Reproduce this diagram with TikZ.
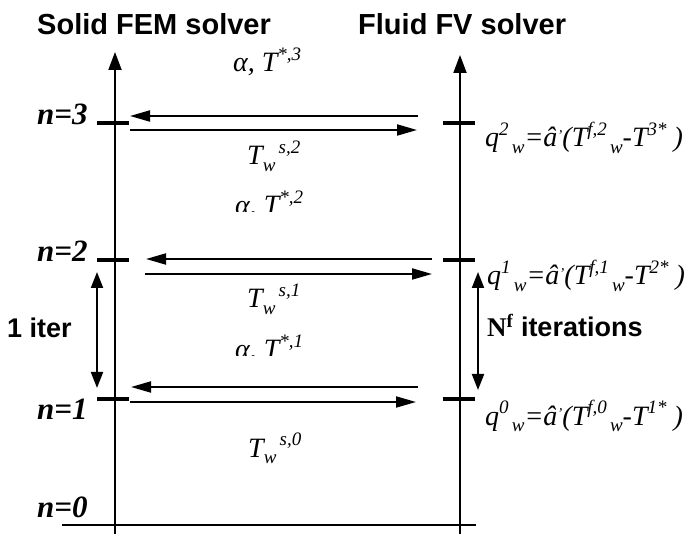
\documentclass[tikz,border=0pt]{standalone}
\usepackage{fontspec}
\setmainfont{Liberation Serif}
\setsansfont{Liberation Sans}
\usepackage{tikz}
\usetikzlibrary{arrows.meta,positioning}

\tikzset{
  ttl/.style={font=\sffamily\bfseries\fontsize{29}{30}\selectfont, inner sep=0pt, anchor=base west},
  lvl/.style={font=\bfseries\itshape\fontsize{31}{32}\selectfont, inner sep=0pt, anchor=base west},
  lbl/.style={font=\itshape\fontsize{28}{30}\selectfont, inner sep=0pt, anchor=base west},
  axis/.style={line width=2pt, -{Triangle[length=18pt,width=13pt]}},
  msg/.style={line width=2pt, -{Triangle[length=20pt,width=11pt]}},
  span/.style={line width=2pt, {Triangle[length=16pt,width=12pt]}-{Triangle[length=16pt,width=12pt]}},
  tick/.style={line width=4pt}
}
\newcommand{\up}[1]{\raisebox{0.42em}{\fontsize{19}{19}\selectfont #1}}
\newcommand{\dn}[1]{\raisebox{-0.22em}{\fontsize{19}{19}\selectfont #1}}
\newcommand{\hatA}{â\raisebox{0.5ex}{\fontsize{15}{15}\selectfont ’}}

\begin{document}
\begin{tikzpicture}[x=1pt, y=-1pt]
  \useasboundingbox (0,0) rectangle (696,534);

  % solvers
  \node[ttl] (solid) at (37,35) {Solid FEM solver};
  \node[ttl] (fluid) at (358,35) {Fluid FV solver};

  % time axes
  \coordinate (sbot) at (115,534);
  \coordinate (stop) at (115,52);
  \coordinate (fbot) at (460,534);
  \coordinate (ftop) at (460,55);
  \draw[axis] (sbot) -- (stop);
  \draw[axis] (fbot) -- (ftop);

  \coordinate (b0) at (62,525);
  \coordinate (b1) at (476,525);
  \draw[line width=2pt] (b0) -- (b1);

  % levels
  \node[lvl] (n3) at (37,125) {n=3};
  \node[lvl] (n2) at (37,262) {n=2};
  \node[lvl] (n1) at (37,420) {n=1};
  \node[lvl] (n0) at (37,517) {n=0};

  \foreach \y/\k in {123/3,260/2,399/1}{
    \coordinate (sl\k) at (97,\y);
    \coordinate (sr\k) at (129,\y);
    \coordinate (fl\k) at (443,\y);
    \coordinate (fr\k) at (475,\y);
    \draw[tick] (sl\k) -- (sr\k);
    \draw[tick] (fl\k) -- (fr\k);
  }

  % exchanges
  \coordinate (a3s) at (418,116);  \coordinate (a3e) at (130,116);
  \coordinate (b3s) at (130,130);  \coordinate (b3e) at (417,130);
  \coordinate (a2s) at (432,259);  \coordinate (a2e) at (146,259);
  \coordinate (b2s) at (145,274);  \coordinate (b2e) at (432,274);
  \coordinate (a1s) at (418,387);  \coordinate (a1e) at (131,387);
  \coordinate (b1s) at (130,402);  \coordinate (b1e) at (416,402);
  \draw[msg] (a3s) -- (a3e);
  \draw[msg] (b3s) -- (b3e);
  \draw[msg] (a2s) -- (a2e);
  \draw[msg] (b2s) -- (b2e);
  \draw[msg] (a1s) -- (a1e);
  \draw[msg] (b1s) -- (b1e);

  \node[lbl] (h3) at (233,72) {α, T\up{*,3}};
  \node[lbl] (t2) at (247,165) {T\dn{w}\up{\,s,2}};
  \begin{scope}
    \clip (200,180) rectangle (360,212);
    \node[lbl] (h2) at (235,215) {α, T\up{*,2}};
  \end{scope}
  \node[lbl] (t1) at (247,308) {T\dn{w}\up{\,s,1}};
  \begin{scope}
    \clip (200,320) rectangle (360,356);
    \node[lbl] (h1) at (235,359) {α, T\up{*,1}};
  \end{scope}
  \node[lbl] (t0) at (248,457) {T\dn{w}\up{\,s,0}};

  \node[lbl] (q2) at (485,147) {q\up{2}\dn{\,w}=\hatA(T\up{f,2}\dn{\,w}-T\up{3*} )};
  \node[lbl] (q1) at (487,285) {q\up{1}\dn{\,w}=\hatA(T\up{f,1}\dn{\,w}-T\up{2*} )};
  \node[lbl] (q0) at (485,425) {q\up{0}\dn{\,w}=\hatA(T\up{f,0}\dn{\,w}-T\up{1*} )};

  % iterations
  \coordinate (li0) at (97,272);  \coordinate (li1) at (97,388);
  \coordinate (ri0) at (478,272); \coordinate (ri1) at (478,390);
  \draw[span] (li0) -- (li1);
  \draw[span] (ri0) -- (ri1);
  \node[ttl, font=\sffamily\bfseries\fontsize{27}{28}\selectfont] (one) at (7,338) {1 iter};
  \node[ttl, font=\sffamily\bfseries\fontsize{27}{28}\selectfont] (nf) at (487,337) {{\rmfamily N\textsuperscript{f}} iterations};
\end{tikzpicture}
\end{document}
